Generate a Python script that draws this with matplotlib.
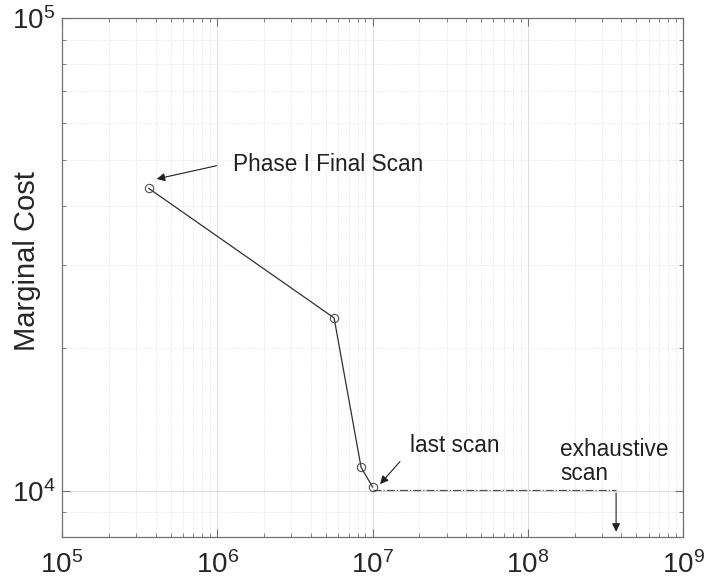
import numpy as np
import matplotlib
matplotlib.use('Agg')
from matplotlib import pyplot as plt
from matplotlib import ticker

plt.rcParams['font.family'] = ['Liberation Sans', 'DejaVu Sans']
plt.rcParams['mathtext.fontset'] = 'custom'
plt.rcParams['mathtext.rm'] = 'Liberation Sans'

# scan results: evaluations vs marginal cost
scan_x = [3.62e5, 5.65e6, 8.43e6, 1.0e7]
scan_y = [43600, 23200, 11210, 10180]

# exhaustive scan level (dash-dot)
exhaustive_x = [1.0e7, 3.7e8]
exhaustive_y = [10030, 10030]

x_ticks = [1e5, 1e6, 1e7, 1e8, 1e9]
y_ticks = [1e4, 1e5]

fig = plt.figure(figsize=(7.05, 5.88), dpi=100)
ax = fig.add_axes([0.088, 0.0867, 0.881, 0.8827])

ax.plot(scan_x, scan_y, color='#303030', lw=0.9, marker='o', ms=6,
        mfc='none', mec='#505050', mew=0.8)
ax.plot(exhaustive_x, exhaustive_y, color='#505050', lw=0.9, ls='-.')

ax.set_xscale('log')
ax.set_yscale('log')
ax.set_xlim(1e5, 1e9)
ax.set_ylim(7980, 1e5)
ax.set_xticks(x_ticks)
ax.set_yticks(y_ticks)
ax.xaxis.set_major_formatter(ticker.LogFormatterMathtext())
ax.yaxis.set_major_formatter(ticker.LogFormatterMathtext())
ax.xaxis.set_minor_locator(ticker.LogLocator(base=10, subs=np.arange(2, 10)))
ax.yaxis.set_minor_locator(ticker.LogLocator(base=10, subs=np.arange(2, 10)))
ax.xaxis.set_minor_formatter(ticker.NullFormatter())
ax.yaxis.set_minor_formatter(ticker.NullFormatter())

ax.grid(True, which='major', color='#d8d8d8', lw=0.6, ls='-')
ax.grid(True, which='minor', color='#dcdcdc', lw=0.6, ls=':')
ax.set_axisbelow(True)

for s in ax.spines.values():
    s.set_color('#707070')
    s.set_linewidth(0.9)
ax.tick_params(which='both', direction='in', top=True, right=True,
               colors='#707070', labelcolor='#262626')
ax.tick_params(which='major', length=6, width=0.8, labelsize=20)
ax.tick_params(which='minor', length=3, width=0.6)
ax.tick_params(axis='x', which='major', pad=10)
ax.tick_params(axis='y', which='major', pad=5)

fig.text(27 / 705, 1 - 261 / 588, 'Marginal Cost', fontsize=21,
         rotation=90, ha='center', va='center', color='#262626')

arrow = dict(arrowstyle='-|>', color='#202020', lw=0.8, mutation_scale=12,
             shrinkA=0, shrinkB=0)
ax.annotate('', xy=(4.07e5, 45650), xytext=(9.9e5, 48700), arrowprops=arrow)
ax.text(1.26e6, 48900, 'Phase I Final Scan', fontsize=16.3, va='center',
        color='#202020')

ax.annotate('', xy=(1.117e7, 10330), xytext=(1.5e7, 11520), arrowprops=arrow)
ax.text(1.744e7, 12490, 'last scan', fontsize=16.3, va='center',
        color='#202020')

ax.annotate('', xy=(3.7e8, 8190), xytext=(3.7e8, 9888), arrowprops=arrow)
ax.text(1.614e8, 11510, 'exhaustive\nscan', fontsize=16.3, va='center',
        ha='left', linespacing=1.05, color='#202020')

fig.savefig('out.png', dpi=100)
